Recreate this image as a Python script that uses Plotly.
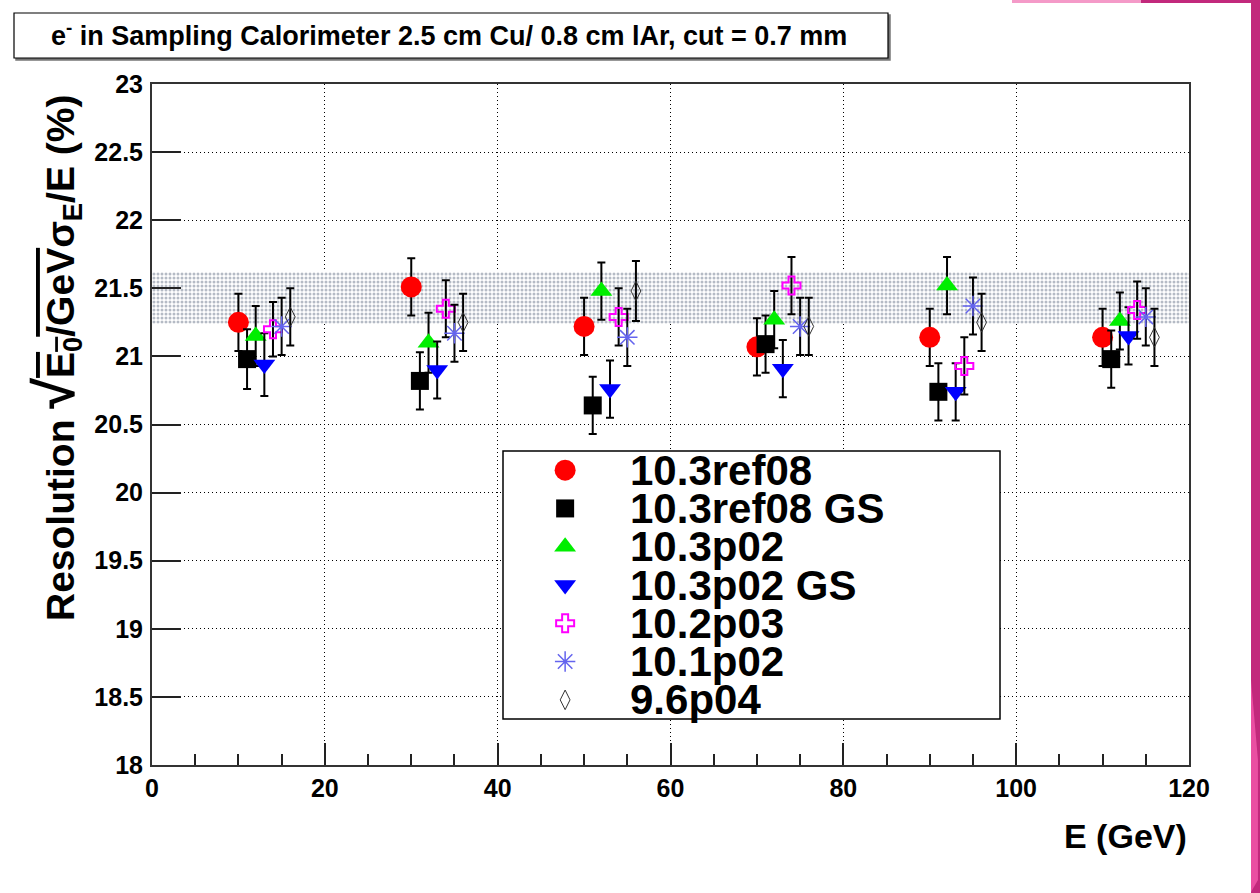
import plotly.graph_objects as go

# ---------------- data ----------------
energies = [10, 30, 50, 70, 90, 110]
series_names = ["10.3ref08", "10.3ref08 GS", "10.3p02", "10.3p02 GS", "10.2p03", "10.1p02", "9.6p04"]
res_103ref08 = [21.25, 21.51, 21.22, 21.07, 21.14, 21.14]
res_103ref08_gs = [20.98, 20.82, 20.64, 21.09, 20.74, 20.98]
res_103p02 = [21.15, 21.10, 21.48, 21.27, 21.52, 21.26]
res_103p02_gs = [20.94, 20.90, 20.76, 20.91, 20.74, 21.15]
res_102p03 = [21.20, 21.35, 21.29, 21.52, 20.93, 21.34]
res_101p02 = [21.22, 21.17, 21.14, 21.22, 21.37, 21.29]
res_96p04 = [21.29, 21.25, 21.48, 21.22, 21.25, 21.14]
err_103ref08 = [0.21, 0.21, 0.21, 0.21, 0.21, 0.21]
err_103ref08_gs = [0.22, 0.21, 0.21, 0.21, 0.21, 0.21]
err_103p02 = [0.22, 0.22, 0.21, 0.21, 0.21, 0.21]
err_103p02_gs = [0.23, 0.21, 0.21, 0.21, 0.21, 0.21]
err_102p03 = [0.20, 0.21, 0.21, 0.21, 0.21, 0.21]
err_101p02 = [0.21, 0.21, 0.21, 0.21, 0.21, 0.21]
err_96p04 = [0.21, 0.21, 0.22, 0.21, 0.21, 0.21]
band_low = 21.24
band_high = 21.62
x_range = [0, 120]
y_range = [18, 23]

values = [res_103ref08, res_103ref08_gs, res_103p02, res_103p02_gs, res_102p03, res_101p02, res_96p04]
errors = [err_103ref08, err_103ref08_gs, err_103p02, err_103p02_gs, err_102p03, err_101p02, err_96p04]

# ---------------- styles ----------------
styles = [
    dict(symbol="circle", color="#ff0000", size=21, line=dict(width=0)),
    dict(symbol="square", color="#000000", size=18, line=dict(width=0)),
    dict(symbol="triangle-up", color="#00ee00", size=19, line=dict(width=0)),
    dict(symbol="triangle-down", color="#0000ff", size=19, line=dict(width=0)),
    dict(symbol="cross-open", color="#ff00ff", size=15, line=dict(width=2, color="#ff00ff")),
    dict(symbol="asterisk-open", color="#6464ee", size=17, line=dict(width=1.5, color="#6464ee")),
    dict(symbol="diamond-tall-open", color="#333333", size=14, line=dict(width=1, color="#333333")),
]

W, H = 1260, 893
L, R, T, B = 152, 71, 84, 128
PW, PH = W - L - R, H - T - B


def px(x):
    return (x - L) / PW


def py(y):
    return (H - B - y) / PH


BOLD = dict(family="Liberation Sans, Arial, sans-serif", color="black", weight="bold")

fig = go.Figure()

# shaded band
fig.add_trace(go.Scatter(
    x=[x_range[0], x_range[1], x_range[1], x_range[0], x_range[0]],
    y=[band_low, band_low, band_high, band_high, band_low],
    mode="lines", fill="toself", line=dict(width=0),
    fillcolor="rgba(0,0,0,0)",
    fillpattern=dict(shape=".", fgcolor="#6c788c", bgcolor="white", size=4, solidity=0.45),
    showlegend=False, hoverinfo="skip"))

for i, (name, vals, errs, st) in enumerate(zip(series_names, values, errors, styles)):
    fig.add_trace(go.Scatter(
        x=[e + i for e in energies], y=vals, name=name, mode="markers",
        marker=st,
        error_y=dict(type="data", array=errs, color="black", thickness=2, width=4),
        showlegend=False))

# manual legend (ROOT-like, tight rows)
n = len(series_names)
pitch = 1.0 / n
for i, (name, st) in enumerate(zip(series_names, styles)):
    yc = 1 - (i + 0.5) * pitch
    fig.add_trace(go.Scatter(x=[0.125], y=[yc], mode="markers", marker=st,
                             xaxis="x2", yaxis="y2", showlegend=False, hoverinfo="skip"))
    fig.add_annotation(x=0.2515, y=yc, xref="x2", yref="y2", text=name, showarrow=False,
                       xanchor="left", yanchor="middle", font=dict(BOLD, size=42))

shapes = []
# legend box
shapes.append(dict(type="rect", xref="paper", yref="paper", x0=px(503), x1=px(1000), y0=py(719), y1=py(451),
                   line=dict(color="black", width=1.5), fillcolor="rgba(0,0,0,0)", layer="above"))
# title box with shadow
shapes.append(dict(type="rect", xref="paper", yref="paper", x0=px(16), x1=px(890), y0=py(60), y1=py(15),
                   line=dict(color="#777777", width=1.5), fillcolor="#777777"))
shapes.append(dict(type="rect", xref="paper", yref="paper", x0=px(14), x1=px(888), y0=py(58), y1=py(13),
                   line=dict(color="black", width=1.2), fillcolor="white"))
# slide decorations (top right / right edge)
shapes.append(dict(type="rect", xref="paper", yref="paper", x0=px(1012), x1=px(1141), y0=py(3), y1=py(0),
                   line=dict(width=0), fillcolor="#f49ac8"))
shapes.append(dict(type="rect", xref="paper", yref="paper", x0=px(1141), x1=px(1260), y0=py(3), y1=py(0),
                   line=dict(width=0), fillcolor="#c2297c"))
shapes.append(dict(type="rect", xref="paper", yref="paper", x0=px(1251), x1=px(1260), y0=py(893), y1=py(0),
                   line=dict(width=0), fillcolor="#c2297c"))
shapes.append(dict(type="path", xref="paper", yref="paper",
                   path="M{:.4f},{:.4f} L{:.4f},{:.4f} L{:.4f},{:.4f} L{:.4f},{:.4f} Z".format(
                       px(1251), py(680), px(1258), py(760), px(1258), py(880), px(1251), py(892)),
                   line=dict(width=0), fillcolor="#ea4fa2"))

fig.update_layout(shapes=shapes)

fig.add_annotation(x=px(449), y=py(34), xref="paper", yref="paper", showarrow=False,
                   text="e<sup>-</sup> in Sampling Calorimeter 2.5 cm Cu/ 0.8 cm lAr, cut = 0.7 mm",
                   font=dict(BOLD, size=27), xanchor="center", yanchor="middle")
fig.add_annotation(x=px(1189), y=py(836), xref="paper", yref="paper", showarrow=False,
                   text="E (GeV)", font=dict(BOLD, size=34), xanchor="right", yanchor="middle")
fig.add_annotation(x=px(55), y=py(358), xref="paper", yref="paper", showarrow=False, textangle=-90,
                   text=("Resolution <span style='font-size:56px'>√</span>"
                         "<span style='text-decoration:overline'>E<sub>0</sub>/GeV</span>"
                         "σ<sub>E</sub>/E (%)"),
                   font=dict(BOLD, size=39), xanchor="center", yanchor="middle")

fig.update_layout(
    width=W, height=H, margin=dict(l=L, r=R, t=T, b=B, autoexpand=False),
    paper_bgcolor="white", plot_bgcolor="white", showlegend=False,
    xaxis=dict(range=x_range, dtick=20, tick0=0, ticks="inside", ticklen=22, tickwidth=1.5, tickcolor="#222",
               showline=True, linecolor="#333", linewidth=2, mirror=True,
               showgrid=True, gridcolor="black", griddash="1px,3px", gridwidth=1, zeroline=False,
               tickfont=dict(BOLD, size=25),
               minor=dict(dtick=5, ticks="inside", ticklen=11, tickcolor="#222", tickwidth=1.5, showgrid=False)),
    yaxis=dict(range=y_range, dtick=0.5, tick0=18, ticks="inside", ticklen=29, tickwidth=1.5, tickcolor="#222",
               showline=True, linecolor="#333", linewidth=2, mirror=True,
               showgrid=True, gridcolor="black", griddash="1px,3px", gridwidth=1, zeroline=False,
               tickfont=dict(BOLD, size=25), ticklabelstandoff=2),
    xaxis2=dict(domain=[px(503), px(1000)], range=[0, 1], visible=False, anchor="y2"),
    yaxis2=dict(domain=[py(719), py(451)], range=[0, 1], visible=False, anchor="x2"),
)

fig.write_html("out.html")
